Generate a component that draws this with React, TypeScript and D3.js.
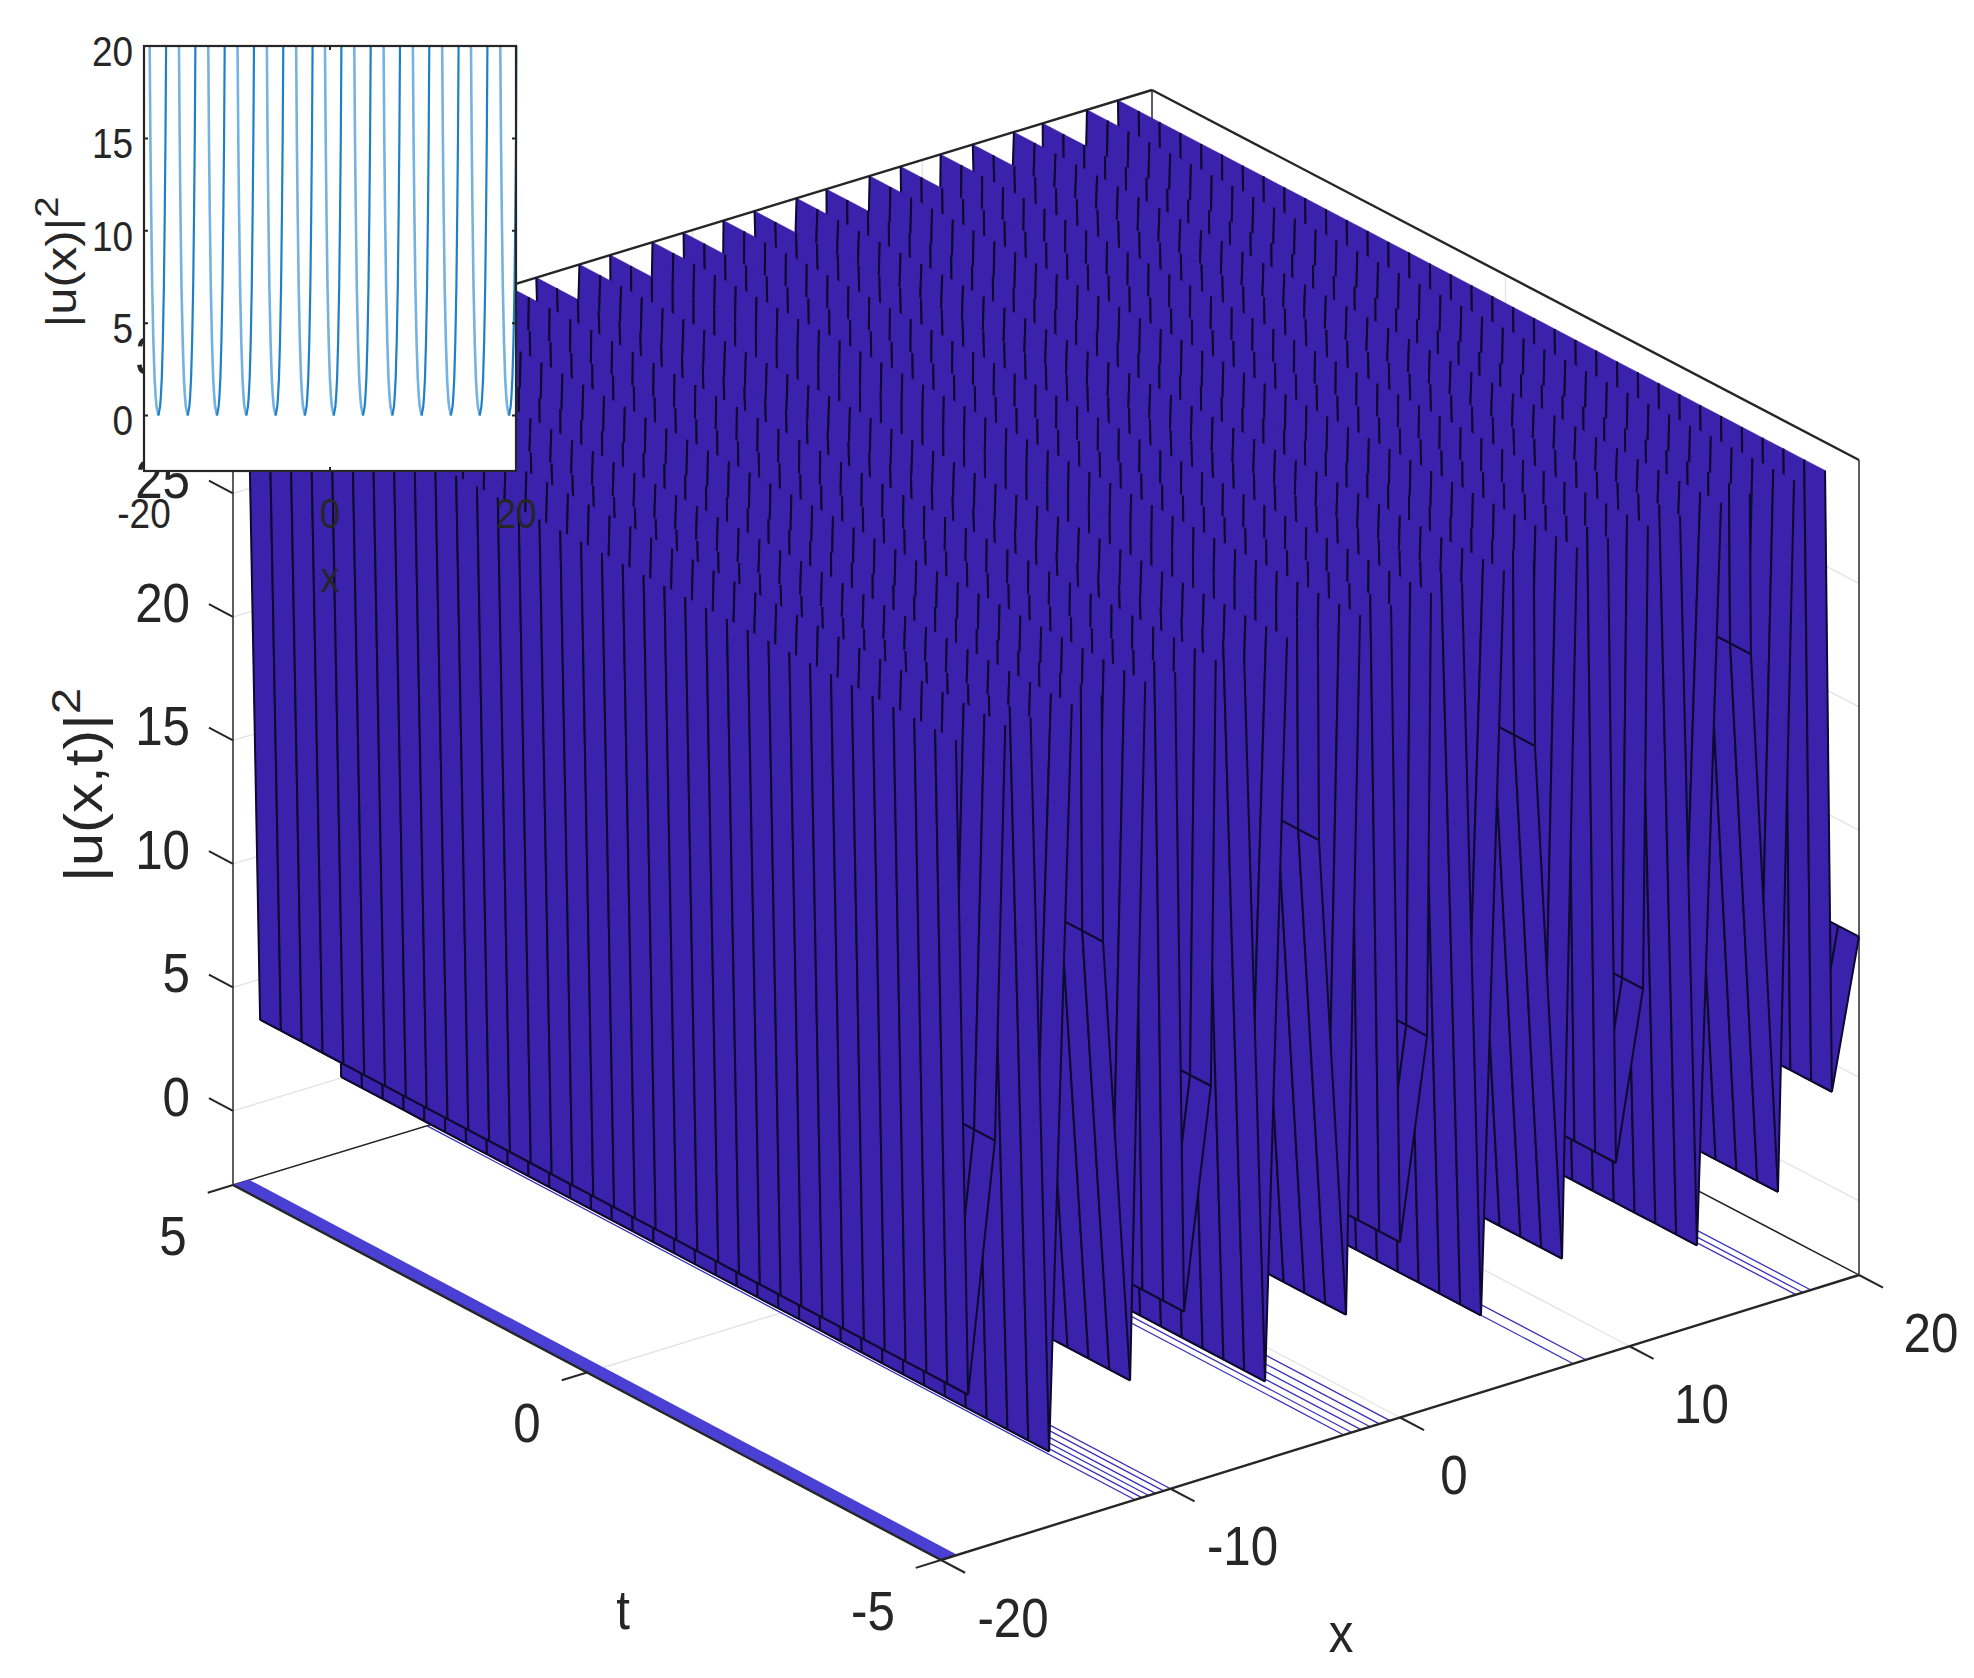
import * as d3 from 'd3'

// surface is one profile in x, repeated along t; 30.01 marks where it leaves through the z limit
const xGrid = [
  -19.35, -18.82, -17.65, -17.2, -16.1, -15.29, -14.3, -13, -12.94, -11.76, -11.1, -9.8, -9.41,
  -8.24, -8.03, -6.8, -5.88, -4.92, -3.58, -3.53, -2.35, -1.74, -0.39, 0, 1.18, 1.35, 2.7, 3.53,
  4.53, 5.83, 5.88, 7.06, 7.71, 9.06, 9.41, 10.59, 10.8, 12.2, 12.94, 13.99, 15.24, 15.29, 16.47,
  17.17, 18.52, 18.82, 20,
]
const zProfile = [
  30.01, 3.36, 13.3, 30.01, 30.01, 0.04, 30.01, 30.01, 20, 1.9, 30.01, 30.01, 4, 12.8, 30.01,
  30.01, 0.16, 30.01, 30.01, 21.4, 1.84, 30.01, 30.01, 4.1, 12.1, 30.01, 30.01, 0.12, 30.01,
  30.01, 22.5, 1.4, 30.01, 30.01, 4.6, 11.3, 30.01, 30.01, 0.24, 30.01, 30.01, 23.5, 1.38, 30.01,
  30.01, 4.76, 10.7,
]
const tGrid = d3.range(0, 35).map((k) => -5 + (k * 10) / 34)

// contour lines on the floor, x position of each
const floorBand = [-19.95, -19.88, -19.81, -19.74, -19.67, -19.6, -19.53, -19.46, -19.39, -19.34]
const floorLines = [
  -11.55, -11.25, -10.95, -10.65, -10.3, -10, -2.45, -2.1, -1.7, -1.3, -0.9, -0.44, 7.55, 8.1,
  17.25, 17.55, 17.9,
]

const xTicks = [-20, -10, 0, 10, 20]
const tTicks = [-5, 0, 5]
const zTicks = [0, 5, 10, 15, 20, 25, 30]

// inset
const insetMinima = [-18.45, -15.3, -12.15, -9, -5.85, -2.7, 0.4, 3.55, 6.7, 9.85, 13, 16.1, 19.25]
const limbOffset = [0, 0.19, 0.27, 0.38, 0.5, 0.62, 0.72, 0.8, 0.87, 0.93]
const limbValue = [0, 0.5, 1, 2, 4, 7, 11, 15, 20, 26]
const insetXTicks = [-20, 0, 20]
const insetYTicks = [0, 5, 10, 15, 20]

const WIDTH = 1974
const HEIGHT = 1678
const ORIGIN = { x: 941, y: 1560 }
const ZMAX = 30
const FONT = '"Liberation Sans", Arial, sans-serif'
const INK = '#262626'
const BLUE = '#3a22ac'

const xToX = d3.scaleLinear().domain([-20, 20]).range([0, 918])
const xToY = d3.scaleLinear().domain([-20, 20]).range([0, -285])
const tToX = d3.scaleLinear().domain([-5, 5]).range([0, -708])
const tToY = d3.scaleLinear().domain([-5, 5]).range([0, -375])
const zToY = d3.scaleLinear().domain([-3, 30]).range([0, -815])

type P3 = [number, number, number]

// flat projection plus a small term for the far corner, the original has a touch of perspective
function project([x, t, z]: P3): [number, number] {
  const warp = ((x + 20) / 40) * ((t + 5) / 10)
  return [ORIGIN.x + xToX(x) + tToX(t) + warp, ORIGIN.y + xToY(x) + tToY(t) + zToY(z) + 5 * warp]
}

const line3 = d3.line<P3>().x((p) => project(p)[0]).y((p) => project(p)[1])
const seg = (a: P3, b: P3) => line3([a, b]) ?? ''

function clipTop(poly: P3[]): P3[] {
  const out: P3[] = []
  poly.forEach((a, i) => {
    const b = poly[(i + 1) % poly.length]
    if (a[2] <= ZMAX) out.push(a)
    if (a[2] <= ZMAX !== b[2] <= ZMAX) {
      const f = (ZMAX - a[2]) / (b[2] - a[2])
      out.push([a[0] + (b[0] - a[0]) * f, a[1] + (b[1] - a[1]) * f, ZMAX])
    }
  })
  return out
}

function clipSeg(a: P3, b: P3): string {
  if (a[2] > ZMAX && b[2] > ZMAX) return ''
  if (a[2] <= ZMAX && b[2] <= ZMAX) return seg(a, b)
  const f = (ZMAX - a[2]) / (b[2] - a[2])
  const m: P3 = [a[0] + (b[0] - a[0]) * f, a[1] + (b[1] - a[1]) * f, ZMAX]
  return a[2] <= ZMAX ? seg(a, m) : seg(m, b)
}

function buildQuads() {
  const quads: { fill: string; edges: string }[] = []
  for (let i = xGrid.length - 2; i >= 0; i--) {
    for (let j = tGrid.length - 2; j >= 0; j--) {
      const a: P3 = [xGrid[i], tGrid[j], zProfile[i]]
      const b: P3 = [xGrid[i + 1], tGrid[j], zProfile[i + 1]]
      const c: P3 = [xGrid[i + 1], tGrid[j + 1], zProfile[i + 1]]
      const d: P3 = [xGrid[i], tGrid[j + 1], zProfile[i]]
      const poly = clipTop([a, b, c, d])
      if (poly.length < 3) continue
      quads.push({
        fill: (line3(poly) ?? '') + 'Z',
        edges: clipSeg(a, b) + clipSeg(b, c) + clipSeg(c, d) + clipSeg(d, a),
      })
    }
  }
  return quads
}

// inset scales
const insetX = d3.scaleLinear().domain([-20, 20]).range([144, 516])
const insetY = d3.scaleLinear().domain([-3, 20]).range([471, 46])
const insetLine = d3.line<[number, number]>().x((d) => insetX(d[0])).y((d) => insetY(d[1]))

const leftLimbs = insetMinima
  .map((m) => insetLine(limbOffset.map((o, i) => [m - o * 1.08, limbValue[i]] as [number, number])))
  .join('')
const rightLimbs = insetMinima
  .map((m) => insetLine(limbOffset.map((o, i) => [m + o * 0.95, limbValue[i]] as [number, number])))
  .join('')

const SX = 0.88

function Label(props: { x: number; y: number; size: number; anchor?: string; children: any }) {
  const { x, y, size, anchor = 'middle', children } = props
  return (
    <text
      transform={`translate(${x},${y}) scale(${SX},1)`}
      fontSize={size}
      textAnchor={anchor}
      dominantBaseline="central"
      fontFamily={FONT}
      fill={INK}
    >
      {children}
    </text>
  )
}

function RotLabel(props: { x: number; y: number; size: number; text: string }) {
  const { x, y, size, text } = props
  return (
    <text
      transform={`translate(${x},${y}) scale(${SX},1) rotate(-90)`}
      fontSize={size}
      textAnchor="middle"
      fontFamily={FONT}
      fill={INK}
    >
      {text}
      <tspan fontSize={size * 0.78} dy={-size * 0.42}>
        2
      </tspan>
    </text>
  )
}

export default function App() {
  const quads = buildQuads()
  const grid: string[] = []
  xTicks.forEach((x) => {
    grid.push(seg([x, -5, -3], [x, 5, -3]), seg([x, 5, -3], [x, 5, 30]))
  })
  tTicks.forEach((t) => {
    grid.push(seg([-20, t, -3], [20, t, -3]), seg([20, t, -3], [20, t, 30]))
  })
  zTicks.forEach((z) => {
    grid.push(seg([-20, 5, z], [20, 5, z]), seg([20, 5, z], [20, -5, z]))
  })

  return (
    <svg
      width={WIDTH}
      height={HEIGHT}
      viewBox={`0 0 ${WIDTH} ${HEIGHT}`}
      style={{ position: 'absolute', left: 0, top: 0, background: '#fff' }}
    >
      {/* back walls and floor */}
      <path d={grid.join('')} fill="none" stroke="#e4e4e4" strokeWidth={1.4} />
      <path
        d={[
          seg([-20, 5, -3], [20, 5, -3]),
          seg([20, 5, -3], [20, -5, -3]),
          seg([-20, 5, -3], [-20, 5, 30]),
          seg([20, 5, -3], [20, 5, 30]),
          seg([20, -5, -3], [20, -5, 30]),
        ].join('')}
        fill="none"
        stroke="#222"
        strokeWidth={1.4}
      />
      <path
        d={[seg([-20, 5, 30], [20, 5, 30]), seg([20, 5, 30], [20, -5, 30])].join('')}
        fill="none"
        stroke={INK}
        strokeWidth={2.4}
      />

      {/* floor contours */}
      {floorLines.map((x) => (
        <path key={x} d={seg([x, -5, -3], [x, 5, -3])} stroke="#3a30b8" strokeWidth={1.3} fill="none" />
      ))}
      {floorBand.map((x) => (
        <path key={x} d={seg([x, -5, -3], [x, 5, -3])} stroke="#4a40d4" strokeWidth={2} fill="none" />
      ))}

      {/* surface, far strips first */}
      {quads.map((q, i) => (
        <g key={i}>
          <path d={q.fill} fill={BLUE} stroke={BLUE} strokeWidth={0.6} />
          <path d={q.edges} fill="none" stroke="#0d0a2e" strokeWidth={2} />
        </g>
      ))}

      {/* front axes */}
      <path
        d={[seg([-20, -5, -3], [20, -5, -3]), seg([-20, -5, -3], [-20, 5, -3])].join('')}
        fill="none"
        stroke={INK}
        strokeWidth={2.4}
      />
      {xTicks.map((x) => (
        <path key={x} d={seg([x, -5, -3], [x, -5.34, -3])} stroke={INK} strokeWidth={2} fill="none" />
      ))}
      {tTicks.map((t) => (
        <path key={t} d={seg([-20, t, -3], [-21.1, t, -3])} stroke={INK} strokeWidth={2} fill="none" />
      ))}
      {zTicks.map((z) => (
        <path key={z} d={seg([-20, 5, z], [-20, 5.34, z])} stroke={INK} strokeWidth={2} fill="none" />
      ))}

      {xTicks.map((x) => {
        const [px, py] = project([x, -5, -3])
        return (
          <Label key={x} x={px + (x === 0 ? 54 : 72)} y={py + 57} size={56}>
            {x}
          </Label>
        )
      })}
      {tTicks.map((t) => {
        const [px, py] = project([-20, t, -3])
        return (
          <Label key={t} x={px + (t === -5 ? -68 : -60)} y={py + 50} size={56}>
            {t}
          </Label>
        )
      })}
      {zTicks.map((z) => {
        const [, py] = project([-20, 5, z])
        return (
          <Label key={z} x={190} y={py - 15} size={56} anchor="end">
            {z}
          </Label>
        )
      })}
      <Label x={623} y={1609} size={56}>
        t
      </Label>
      <Label x={1341} y={1632} size={56}>
        x
      </Label>
      <RotLabel x={102} y={785} size={60} text="|u(x,t)|" />

      {/* inset */}
      <rect x={144} y={46} width={372} height={425} fill="#fff" />
      <clipPath id="inset-clip">
        <rect x={144} y={46} width={373.5} height={425} />
      </clipPath>
      <g clipPath="url(#inset-clip)" fill="none">
        <path d={leftLimbs} stroke="#74b3e1" strokeWidth={2.6} />
        <path d={rightLimbs} stroke="#1f80c6" strokeWidth={2.2} />
      </g>
      <rect x={144} y={46} width={372} height={425} fill="none" stroke={INK} strokeWidth={2.2} />
      {insetYTicks.map((v) => (
        <g key={v}>
          <path d={`M144,${insetY(v)}h4M516,${insetY(v)}h-4`} stroke={INK} strokeWidth={2} />
          <Label x={133} y={insetY(v) + 5} size={42} anchor="end">
            {v}
          </Label>
        </g>
      ))}
      {insetXTicks.map((v) => (
        <g key={v}>
          <path d={`M${insetX(v)},46v4M${insetX(v)},471v-4`} stroke={INK} strokeWidth={2} />
          <Label x={insetX(v)} y={513} size={42}>
            {v}
          </Label>
        </g>
      ))}
      <Label x={330} y={577} size={42}>
        x
      </Label>
      <RotLabel x={76} y={262} size={49} text="|u(x)|" />
    </svg>
  )
}
